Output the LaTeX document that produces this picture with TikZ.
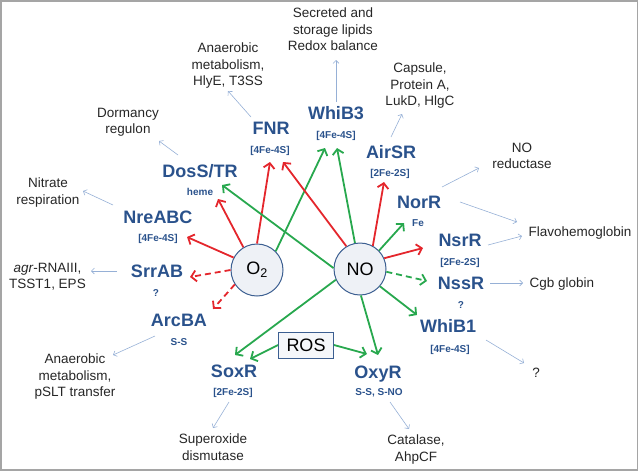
\documentclass[tikz,border=0pt]{standalone}
\usepackage{fontspec}
\setmainfont{Liberation Sans}
\usetikzlibrary{arrows.meta,calc}
\definecolor{lblue}{RGB}{42,82,140}
\definecolor{ared}{RGB}{228,38,44}
\definecolor{agreen}{RGB}{40,168,78}
\definecolor{thinb}{RGB}{150,176,214}
\definecolor{circfill}{RGB}{238,241,246}
\definecolor{circdraw}{RGB}{60,95,145}
\definecolor{framec}{RGB}{165,165,165}
\begin{document}
\begin{tikzpicture}[x=1pt,y=-1pt,
  lab/.style={font=\fontsize{18}{20}\selectfont\bfseries, text=lblue, inner sep=1pt, text height=12.9pt, text depth=0pt},
  sub/.style={font=\fontsize{10}{12}\selectfont\bfseries, text=lblue, inner sep=1pt, text height=7.2pt, text depth=0pt},
  txt/.style={font=\fontsize{13.5}{16.3}\selectfont, align=center, inner sep=1pt, text=black!85, anchor=north},
  gas/.style={circle, draw=circdraw, fill=circfill, line width=1pt, minimum size=52pt, inner sep=0pt, font=\fontsize{18}{20}\selectfont},
  rosbox/.style={rectangle, draw=circdraw, fill=circfill!60, line width=1pt, minimum width=55pt, minimum height=26pt, inner sep=0pt, font=\fontsize{18}{20}\selectfont},
  redarr/.style={draw=ared, line width=1.8pt, -{Straight Barb[length=5pt,width=11pt]}},
  grnarr/.style={draw=agreen, line width=1.8pt, -{Straight Barb[length=5pt,width=11pt]}},
  dashline/.style={dash pattern=on 6pt off 4pt},
  thinarr/.style={draw=thinb, line width=0.6pt, -{Straight Barb[length=3pt,width=6pt]}}
]
\useasboundingbox (0,0) rectangle (639,472);
\draw[framec, line width=1.3pt] (1,1) rectangle (637.5,470);

% regulator labels
\node[lab] (whib3) at (336,113) {WhiB3};
\node[sub] (whib3S) at (336,135) {[4Fe-4S]};
\node[lab] (fnr) at (271,128) {FNR};
\node[sub] (fnrS) at (270,150) {[4Fe-4S]};
\node[lab] (dos) at (200,171) {DosS/TR};
\node[sub] (dosS) at (200,192) {heme};
\node[lab] (nre) at (158,217) {NreABC};
\node[sub] (nreS) at (158,238) {[4Fe-4S]};
\node[lab] (srr) at (157,271) {SrrAB};
\node[sub] (srrS) at (156,293) {?};
\node[lab] (arc) at (179,320) {ArcBA};
\node[sub] (arcS) at (179,342) {S-S};
\node[lab] (sox) at (234,371) {SoxR};
\node[sub] (soxS) at (233,392) {[2Fe-2S]};
\node[lab] (oxy) at (378,372) {OxyR};
\node[sub] (oxyS) at (379,392) {S-S, S-NO};
\node[lab] (whib1) at (448,326) {WhiB1};
\node[sub] (whib1S) at (450,349) {[4Fe-4S]};
\node[lab] (nss) at (461,283) {NssR};
\node[sub] (nssS) at (461,305) {?};
\node[lab] (nsr) at (460,240) {NsrR};
\node[sub] (nsrS) at (460,262) {[2Fe-2S]};
\node[lab] (nor) at (419,202) {NorR};
\node[sub] (norS) at (418,223) {Fe};
\node[lab] (air) at (391,152) {AirSR};
\node[sub] (airS) at (390,173) {[2Fe-2S]};

% target texts
\node[txt] (secT) at (333,7) {Secreted and\\storage lipids\\Redox balance};
\node[txt] (anT) at (228,42) {Anaerobic\\metabolism,\\HlyE, T3SS};
\node[txt] (dorT) at (128,107) {Dormancy\\regulon};
\node[txt] (nitT) at (48,177) {Nitrate\\respiration};
\node[txt] (agrT) at (47.5,262) {\textit{agr}-RNAIII,\\TSST1, EPS};
\node[txt] (an2T) at (75,353) {Anaerobic\\metabolism,\\pSLT transfer};
\node[txt] (supT) at (213,433) {Superoxide\\dismutase};
\node[txt] (catT) at (416,434) {Catalase,\\AhpCF};
\node[txt] (qT) at (536,367) {?};
\node[txt] (cgbT) at (562,277) {Cgb globin};
\node[txt] (flaT) at (580,226) {Flavohemoglobin};
\node[txt] (noredT) at (522,142) {NO\\reductase};
\node[txt] (capT) at (420,62) {Capsule,\\Protein A,\\LukD, HlgC};

% thin arrows to targets
\draw[thinarr] ($(whib3)+(0,-11)$) -- ($(secT.north)+(3,53)$);
\draw[thinarr] ($(fnr)+(-20,-11)$) -- ($(anT.north)+(0,49)$);
\draw[thinarr] ($(dos)+(-22,-16)$) -- ($(dorT.north)+(31,34)$);
\draw[thinarr] ($(nre)+(-45,-12)$) -- ($(nitT.north)+(35,14)$);
\draw[thinarr] ($(srr)+(-40,0)$) -- ($(agrT.north)+(43.5,9)$);
\draw[thinarr] ($(arc)+(-24,16)$) -- ($(an2T.north)+(38,2)$);
\draw[thinarr] ($(sox)+(-5,31)$) -- ($(supT.north)+(0,-5)$);
\draw[thinarr] ($(oxy)+(12,30)$) -- ($(catT.north)+(-7,-5)$);
\draw[thinarr] ($(whib1)+(38,14)$) -- ($(qT.north)+(-12,-4)$);
\draw[thinarr] ($(nss)+(29,0)$) -- ($(cgbT.north)+(-39,6)$);
\draw[thinarr] ($(nsr)+(28,5)$) -- ($(flaT.north)+(-58,10)$);
\draw[thinarr] ($(nor)+(41,0)$) -- ($(flaT.north)+(-63,-4)$);
\draw[thinarr] ($(nor)+(23,-15)$) -- ($(noredT.north)+(-43,26)$);
\draw[thinarr] ($(air)+(0,-15)$) -- ($(capT.north)+(-18,52)$);

% gas circles and ROS
\node[gas] (o2) at (257,270) {O\textsubscript{2}};
\node[gas] (no) at (360,269) {NO};
\node[rosbox] (ros) at (306,345) {ROS};

% O2 arrows
\draw[redarr] (o2.152) -- ($(nreS)+(29,-1)$);
\draw[redarr] (o2.121) -- ($(dosS)+(18,7)$);
\draw[redarr] (o2.90) -- ($(fnrS)+(0,12)$);
\draw[redarr, dashline] (o2.180) -- ($(srr)+(33,6)$);
\draw[redarr, dashline] (o2.213) -- ($(arc)+(34,-11)$);
\draw[grnarr] (o2.45) -- ($(whib3S)+(-11,13)$);

% NO arrows
\draw[redarr] (no.121) -- ($(fnrS)+(13,12)$);
\draw[redarr] (no.61) -- ($(airS)+(-6,9)$);
\draw[redarr] (no.24) -- ($(nsr)+(-37,8)$);
\draw[grnarr] (no.101) -- ($(whib3S)+(1,13)$);
\draw[grnarr] (no.178) -- ($(dos)+(22,14)$);
\draw[grnarr] (no.44) -- ($(norS)+(-14,0)$);
\draw[grnarr, dashline] (no.-6) -- ($(nss)+(-34,-2)$);
\draw[grnarr] (no.-41) -- ($(whib1)+(-31,-11)$);
\draw[grnarr] (no.204) -- ($(sox)+(1,-16)$);
\draw[grnarr] (no.-88) -- ($(oxy)+(0,-17)$);

% ROS arrows
\draw[grnarr] (ros.west) -- ($(sox)+(16,-12)$);
\draw[grnarr] (ros.east) -- ($(oxy)+(-11,-18)$);
\end{tikzpicture}
\end{document}
